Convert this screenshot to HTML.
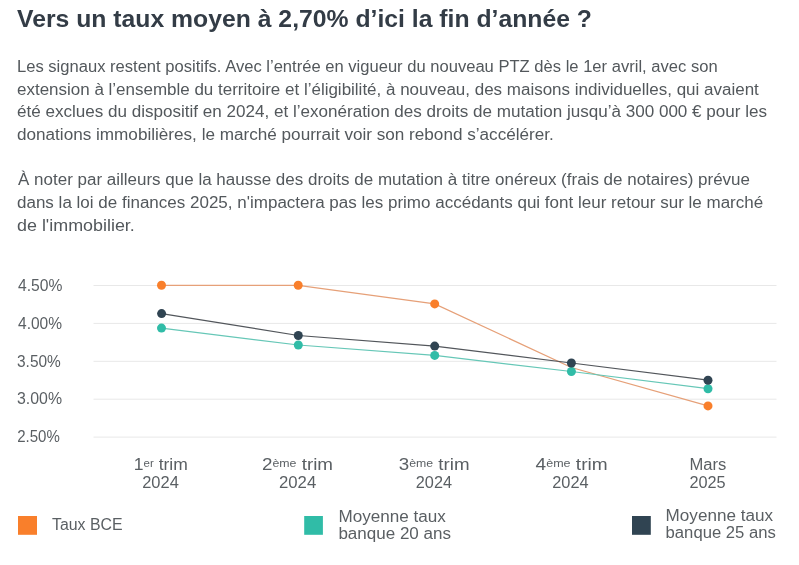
<!DOCTYPE html>
<html lang="fr"><head><meta charset="utf-8"><title>Vers un taux moyen à 2,70% d’ici la fin d’année ?</title>
<style>
html,body{margin:0;padding:0;background:#fff;}
body{width:799px;height:565px;overflow:hidden;}
svg{display:block;font-family:'Liberation Sans', Arial, sans-serif;}
</style></head><body>
<svg width="799" height="565" viewBox="0 0 799 565">
<rect width="799" height="565" fill="#fff"/>
<line x1="93.5" x2="776.5" y1="285.5" y2="285.5" stroke="#e8e8e8" stroke-width="1"/>
<line x1="93.5" x2="776.5" y1="323.4" y2="323.4" stroke="#e8e8e8" stroke-width="1"/>
<line x1="93.5" x2="776.5" y1="361.3" y2="361.3" stroke="#e8e8e8" stroke-width="1"/>
<line x1="93.5" x2="776.5" y1="399.2" y2="399.2" stroke="#e8e8e8" stroke-width="1"/>
<line x1="93.5" x2="776.5" y1="437.1" y2="437.1" stroke="#e8e8e8" stroke-width="1"/>
<path d="M161.5,285.3 L298.2,285.3 L434.7,303.9 L571.4,367.5 L708,405.9" fill="none" stroke="#e6a078" stroke-width="1.25" stroke-opacity="1"/>
<path d="M161.5,328.1 L298.3,345 L434.7,355.4 L571.4,371.5 L708,388.7" fill="none" stroke="#66c7b7" stroke-width="1.25" stroke-opacity="1"/>
<path d="M161.6,313.6 L298.3,335.5 L434.7,346.1 L571.4,363 L708,380.2" fill="none" stroke="#52565b" stroke-width="1.25" stroke-opacity="1"/>
<circle cx="161.5" cy="285.3" r="4.5" fill="#f97f2b" stroke="#e6a078" stroke-width="0"/>
<circle cx="298.2" cy="285.3" r="4.5" fill="#f97f2b" stroke="#e6a078" stroke-width="0"/>
<circle cx="434.7" cy="303.9" r="4.5" fill="#f97f2b" stroke="#e6a078" stroke-width="0"/>
<circle cx="708" cy="405.9" r="4.5" fill="#f97f2b" stroke="#e6a078" stroke-width="0"/>
<circle cx="161.5" cy="328.1" r="4.5" fill="#30bca7" stroke="#66c7b7" stroke-width="0"/>
<circle cx="298.3" cy="345" r="4.5" fill="#30bca7" stroke="#66c7b7" stroke-width="0"/>
<circle cx="434.7" cy="355.4" r="4.5" fill="#30bca7" stroke="#66c7b7" stroke-width="0"/>
<circle cx="571.4" cy="371.5" r="4.5" fill="#30bca7" stroke="#66c7b7" stroke-width="0"/>
<circle cx="708" cy="388.7" r="4.5" fill="#30bca7" stroke="#66c7b7" stroke-width="0"/>
<circle cx="161.6" cy="313.6" r="4.5" fill="#304452" stroke="#52565b" stroke-width="0"/>
<circle cx="298.3" cy="335.5" r="4.5" fill="#304452" stroke="#52565b" stroke-width="0"/>
<circle cx="434.7" cy="346.1" r="4.5" fill="#304452" stroke="#52565b" stroke-width="0"/>
<circle cx="571.4" cy="363" r="4.5" fill="#304452" stroke="#52565b" stroke-width="0"/>
<circle cx="708" cy="380.2" r="4.5" fill="#304452" stroke="#52565b" stroke-width="0"/>
<rect x="18" y="516" width="19" height="18.8" fill="#f97f2b"/>
<rect x="304.2" y="516" width="18.7" height="18.8" fill="#30bca7"/>
<rect x="632" y="516" width="18.8" height="18.8" fill="#304452"/>
<text x="17.00" y="26.60" textLength="575.00" lengthAdjust="spacingAndGlyphs" font-size="23" font-weight="700" fill="#333c46">Vers un taux moyen à 2,70% d’ici la fin d’année ?</text>
<text x="17.00" y="72.00" textLength="700.60" lengthAdjust="spacingAndGlyphs" font-size="16" font-weight="400" fill="#53585c">Les signaux restent positifs. Avec l’entrée en vigueur du nouveau PTZ dès le 1er avril, avec son</text>
<text x="17.00" y="94.50" textLength="741.80" lengthAdjust="spacingAndGlyphs" font-size="16" font-weight="400" fill="#53585c">extension à l’ensemble du territoire et l’éligibilité, à nouveau, des maisons individuelles, qui avaient</text>
<text x="17.00" y="117.00" textLength="750.00" lengthAdjust="spacingAndGlyphs" font-size="16" font-weight="400" fill="#53585c">été exclues du dispositif en 2024, et l’exonération des droits de mutation jusqu’à 300 000 € pour les</text>
<text x="17.00" y="139.60" textLength="536.80" lengthAdjust="spacingAndGlyphs" font-size="16" font-weight="400" fill="#53585c">donations immobilières, le marché pourrait voir son rebond s’accélérer.</text>
<text x="18.00" y="185.20" textLength="732.00" lengthAdjust="spacingAndGlyphs" font-size="16" font-weight="400" fill="#53585c">À noter par ailleurs que la hausse des droits de mutation à titre onéreux (frais de notaires) prévue</text>
<text x="17.00" y="207.60" textLength="746.20" lengthAdjust="spacingAndGlyphs" font-size="16" font-weight="400" fill="#53585c">dans la loi de finances 2025, n'impactera pas les primo accédants qui font leur retour sur le marché</text>
<text x="17.00" y="230.50" textLength="117.80" lengthAdjust="spacingAndGlyphs" font-size="16" font-weight="400" fill="#53585c">de l'immobilier.</text>
<text x="18.00" y="290.70" textLength="44.40" lengthAdjust="spacingAndGlyphs" font-size="16" font-weight="400" fill="#5a5f63">4.50%</text>
<text x="18.00" y="328.60" textLength="44.00" lengthAdjust="spacingAndGlyphs" font-size="16" font-weight="400" fill="#5a5f63">4.00%</text>
<text x="17.00" y="366.50" textLength="43.80" lengthAdjust="spacingAndGlyphs" font-size="16" font-weight="400" fill="#5a5f63">3.50%</text>
<text x="17.00" y="404.40" textLength="45.00" lengthAdjust="spacingAndGlyphs" font-size="16" font-weight="400" fill="#5a5f63">3.00%</text>
<text x="17.20" y="442.30" textLength="42.60" lengthAdjust="spacingAndGlyphs" font-size="16" font-weight="400" fill="#5a5f63">2.50%</text>
<text x="133.80" y="469.80" textLength="54.00" lengthAdjust="spacingAndGlyphs" font-size="16" font-weight="400" fill="#5a5f63">1<tspan font-size="10.5" dy="-3">er</tspan><tspan dy="3"> trim</tspan></text>
<text x="142.20" y="487.60" textLength="36.60" lengthAdjust="spacingAndGlyphs" font-size="16" font-weight="400" fill="#5a5f63">2024</text>
<text x="262.00" y="469.80" textLength="71.00" lengthAdjust="spacingAndGlyphs" font-size="16" font-weight="400" fill="#5a5f63">2<tspan font-size="10.5" dy="-3">ème</tspan><tspan dy="3"> trim</tspan></text>
<text x="279.00" y="487.60" textLength="37.20" lengthAdjust="spacingAndGlyphs" font-size="16" font-weight="400" fill="#5a5f63">2024</text>
<text x="398.80" y="469.80" textLength="70.80" lengthAdjust="spacingAndGlyphs" font-size="16" font-weight="400" fill="#5a5f63">3<tspan font-size="10.5" dy="-3">ème</tspan><tspan dy="3"> trim</tspan></text>
<text x="415.80" y="487.60" textLength="36.20" lengthAdjust="spacingAndGlyphs" font-size="16" font-weight="400" fill="#5a5f63">2024</text>
<text x="535.60" y="469.80" textLength="72.00" lengthAdjust="spacingAndGlyphs" font-size="16" font-weight="400" fill="#5a5f63">4<tspan font-size="10.5" dy="-3">ème</tspan><tspan dy="3"> trim</tspan></text>
<text x="552.20" y="487.60" textLength="36.40" lengthAdjust="spacingAndGlyphs" font-size="16" font-weight="400" fill="#5a5f63">2024</text>
<text x="689.40" y="469.80" textLength="36.80" lengthAdjust="spacingAndGlyphs" font-size="16" font-weight="400" fill="#5a5f63">Mars</text>
<text x="689.40" y="487.60" textLength="36.20" lengthAdjust="spacingAndGlyphs" font-size="16" font-weight="400" fill="#5a5f63">2025</text>
<text x="52.00" y="529.80" textLength="70.60" lengthAdjust="spacingAndGlyphs" font-size="16" font-weight="400" fill="#5a5f63">Taux BCE</text>
<text x="338.40" y="521.90" textLength="107.40" lengthAdjust="spacingAndGlyphs" font-size="16" font-weight="400" fill="#5a5f63">Moyenne taux</text>
<text x="338.40" y="539.40" textLength="112.60" lengthAdjust="spacingAndGlyphs" font-size="16" font-weight="400" fill="#5a5f63">banque 20 ans</text>
<text x="665.60" y="521.30" textLength="107.40" lengthAdjust="spacingAndGlyphs" font-size="16" font-weight="400" fill="#5a5f63">Moyenne taux</text>
<text x="665.60" y="538.10" textLength="110.20" lengthAdjust="spacingAndGlyphs" font-size="16" font-weight="400" fill="#5a5f63">banque 25 ans</text>
</svg>
</body></html>
